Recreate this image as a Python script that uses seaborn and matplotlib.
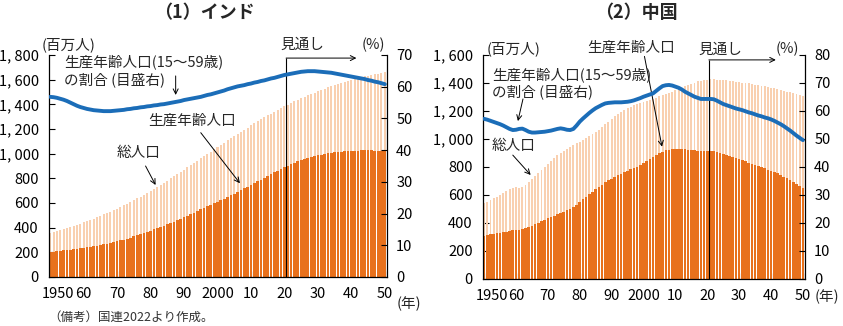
import matplotlib
matplotlib.use("Agg")
import matplotlib.pyplot as plt
import matplotlib.transforms as mtrans
import numpy as np
import pandas as pd
import seaborn as sns

# ---------------- data ----------------
years = list(range(1950, 2051))

india_total = [
    357, 364, 371, 379, 387, 395, 404, 413, 423, 432,
    442, 452, 462, 473, 484, 495, 507, 518, 530, 543,
    555, 568, 581, 595, 609, 623, 638, 652, 667, 682,
    697, 713, 730, 747, 764, 781, 799, 817, 835, 853,
    870, 888, 906, 925, 943, 961, 980, 998, 1016, 1035,
    1053, 1071, 1090, 1108, 1126, 1144, 1161, 1178, 1195, 1212,
    1229, 1246, 1262, 1278, 1294, 1310, 1325, 1340, 1355, 1370,
    1384, 1398, 1411, 1424, 1437, 1449, 1461, 1473, 1484, 1495,
    1506, 1517, 1528, 1538, 1548, 1557, 1566, 1575, 1584, 1592,
    1600, 1607, 1614, 1621, 1627, 1633, 1639, 1645, 1650, 1655,
    1660]

india_working = [
    203, 206, 209, 212, 215, 218, 221, 225, 229, 233,
    237, 241, 245, 249, 254, 259, 264, 269, 275, 281,
    289, 296, 304, 312, 320, 329, 338, 347, 356, 366,
    376, 386, 396, 406, 417, 428, 439, 450, 462, 474,
    486, 498, 510, 522, 535, 548, 561, 574, 587, 600,
    610, 623, 636, 650, 663, 677, 691, 704, 718, 732,
    746, 760, 775, 790, 804, 818, 833, 848, 863, 878,
    892, 904, 915, 926, 937, 947, 957, 966, 974, 981,
    987, 993, 998, 1003, 1007, 1011, 1014, 1017, 1019, 1021,
    1023, 1024, 1025, 1026, 1026, 1026, 1026, 1025, 1025, 1024,
    1023]

india_ratio = [
    56.8, 56.7, 56.5, 56.2, 55.9, 55.5, 55.0, 54.5, 54.0, 53.6,
    53.3, 53.0, 52.8, 52.6, 52.5, 52.4, 52.3, 52.3, 52.3, 52.4,
    52.5, 52.6, 52.7, 52.9, 53.0, 53.2, 53.3, 53.5, 53.6, 53.8,
    53.9, 54.1, 54.2, 54.4, 54.5, 54.7, 54.9, 55.1, 55.3, 55.5,
    55.8, 56.0, 56.2, 56.4, 56.6, 56.8, 57.1, 57.4, 57.6, 57.9,
    58.2, 58.5, 58.8, 59.2, 59.5, 59.8, 60.1, 60.3, 60.5, 60.8,
    61.0, 61.3, 61.5, 61.8, 62.0, 62.3, 62.6, 62.8, 63.1, 63.4,
    63.7, 63.9, 64.1, 64.3, 64.5, 64.7, 64.8, 64.9, 64.9, 64.9,
    64.8, 64.7, 64.6, 64.5, 64.4, 64.2, 64.0, 63.8, 63.6, 63.4,
    63.2, 63.0, 62.8, 62.6, 62.4, 62.1, 61.9, 61.6, 61.4, 61.1,
    60.8]

china_total = [
    543, 553, 564, 576, 588, 600, 613, 627, 640, 651,
    654, 651, 655, 673, 692, 712, 734, 756, 778, 800,
    822, 843, 864, 884, 901, 916, 930, 943, 956, 969,
    982, 994, 1008, 1022, 1035, 1050, 1067, 1085, 1104, 1124,
    1144, 1161, 1176, 1190, 1204, 1219, 1232, 1243, 1253, 1260,
    1264, 1272, 1280, 1288, 1296, 1304, 1312, 1321, 1330, 1339,
    1348, 1357, 1366, 1375, 1384, 1394, 1403, 1411, 1417, 1421,
    1424, 1425, 1425, 1424, 1422, 1420, 1418, 1415, 1412, 1409,
    1406, 1403, 1400, 1397, 1393, 1389, 1385, 1381, 1376, 1372,
    1367, 1362, 1356, 1351, 1345, 1339, 1333, 1326, 1320, 1313,
    1307]

china_working = [
    308, 313, 318, 323, 328, 331, 335, 339, 343, 347,
    350, 352, 357, 364, 372, 381, 391, 401, 412, 422,
    433, 443, 453, 462, 471, 481, 490, 498, 512, 530,
    550, 569, 588, 606, 624, 641, 658, 675, 691, 704,
    717, 728, 740, 751, 762, 772, 783, 793, 803, 814,
    826, 840, 855, 871, 887, 899, 910, 918, 924, 928,
    930, 930, 929, 927, 925, 922, 919, 916, 913, 911,
    912, 915, 914, 908, 901, 894, 887, 879, 871, 863,
    856, 848, 840, 832, 824, 815, 807, 799, 790, 781,
    773, 764, 754, 743, 732, 720, 707, 694, 680, 665,
    650]

china_ratio = [
    57.2, 56.9, 56.5, 56.1, 55.7, 55.3, 54.8, 54.2, 53.6, 53.2,
    53.3, 53.6, 53.7, 53.2, 52.6, 52.3, 52.3, 52.4, 52.5, 52.6,
    52.8, 53.0, 53.3, 53.6, 53.8, 53.6, 53.3, 53.2, 53.6, 54.8,
    56.2, 57.3, 58.3, 59.3, 60.2, 61.0, 61.6, 62.2, 62.7, 62.9,
    63.0, 63.1, 63.1, 63.1, 63.2, 63.3, 63.5, 63.8, 64.2, 64.6,
    65.1, 65.5, 65.9, 66.3, 67.2, 68.1, 68.9, 69.2, 69.3, 69.1,
    68.7, 68.3, 67.7, 66.9, 66.3, 65.7, 65.1, 64.7, 64.3, 64.3,
    64.3, 64.3, 64.2, 63.7, 63.1, 62.5, 62.1, 61.7, 61.3, 60.9,
    60.6, 60.3, 59.9, 59.5, 59.2, 58.8, 58.4, 58.1, 57.7, 57.4,
    57.0, 56.5, 55.9, 55.3, 54.6, 53.8, 53.0, 52.1, 51.2, 50.4,
    49.6]

x_tick_years = [1950, 1960, 1970, 1980, 1990, 2000, 2010, 2020, 2030, 2040, 2050]
x_tick_labels = ["1950", "60", "70", "80", "90", "2000", "10", "20", "30", "40", "50"]

titles = ["（1）インド", "（2）中国"]

# ---------------- style ----------------
sns.set_theme(style="white")
plt.rcParams["font.family"] = ["Noto Sans CJK JP", "DejaVu Sans"]

DARK = "#e8711c"
LIGHT = "#f9d0b0"
BLUE = "#1b6db8"

W, H = 843, 326
fig = plt.figure(figsize=(W / 100, H / 100), dpi=100)


def rect(l, t, r, b):
    return [l / W, 1 - b / H, (r - l) / W, (b - t) / H]


def px(x, y):
    return x / W, 1 - y / H


def draw(ax, total, working, ratio, ymax, ystep, rmax, rstep):
    df = pd.DataFrame({"year": years, "total": total,
                       "working": working, "ratio": ratio})
    sns.barplot(data=df, x="year", y="total", native_scale=True, color=LIGHT,
                saturation=1, width=0.6, linewidth=0, errorbar=None, ax=ax)
    sns.barplot(data=df, x="year", y="working", native_scale=True, color=DARK,
                saturation=1, width=0.82, linewidth=0, errorbar=None, ax=ax)
    ax.set_xlim(1949.5, 2050.5)
    ax.set_ylim(0, ymax)
    yt = list(range(0, ymax + 1, ystep))
    ax.set_yticks(yt)
    ax.set_yticklabels([f"{v:,}".replace(",", ", ") for v in yt])
    ax.set_xticks(x_tick_years)
    ax.set_xticklabels(x_tick_labels)
    ax.set_xlabel("")
    ax.set_ylabel("")
    ax.tick_params(axis="both", direction="in", length=4, width=0.8,
                   colors="black", labelsize=10.5, pad=7)
    ax.tick_params(axis="y", left=True, right=False)
    ax.tick_params(axis="x", bottom=True)
    for s in ["top", "right"]:
        ax.spines[s].set_visible(False)
    for s in ["left", "bottom"]:
        ax.spines[s].set_color("black")
        ax.spines[s].set_linewidth(0.9)
    # shift the "1950" label to the right
    t0 = ax.xaxis.get_major_ticks()[0].label1
    t0.set_transform(t0.get_transform() +
                     mtrans.ScaledTranslation(8 / 100, 0, fig.dpi_scale_trans))

    axr = ax.twinx()
    sns.lineplot(data=df, x="year", y="ratio", color=BLUE, linewidth=2.8,
                 ax=axr)
    axr.set_ylim(0, rmax)
    axr.set_xlim(1949.5, 2050.5)
    axr.set_yticks(list(range(0, rmax + 1, rstep)))
    axr.set_ylabel("")
    axr.set_xlabel("")
    axr.tick_params(axis="y", direction="in", length=4, width=0.8,
                    colors="black", labelsize=10.5, pad=7, right=True, left=False)
    for s in ["top", "left", "bottom"]:
        axr.spines[s].set_visible(False)
    axr.spines["right"].set_color("black")
    axr.spines["right"].set_linewidth(0.9)
    return axr


ax1 = fig.add_axes(rect(48.5, 55, 386.5, 277))
ax1r = draw(ax1, india_total, india_working, india_ratio, 1800, 200, 70, 10)
ax2 = fig.add_axes(rect(482.5, 55, 804.5, 279))
ax2r = draw(ax2, china_total, china_working, china_ratio, 1600, 200, 80, 10)

FS = 10.5
arrow = dict(arrowstyle="->", lw=0.7, color="black", shrinkA=0, shrinkB=0,
             mutation_scale=9)

# --- titles ---
fig.text(*px(204, 13), titles[0], ha="center", va="center", fontsize=13,
         fontweight="bold")
fig.text(*px(636, 13), titles[1], ha="center", va="center", fontsize=13,
         fontweight="bold")

# --- India annotations ---
fig.text(*px(42, 45), "(百万人)", ha="left", va="center", fontsize=FS)
fig.text(*px(362, 45), "(%)", ha="left", va="center", fontsize=FS)
fig.text(*px(64, 62), "生産年齢人口(15～59歳)", ha="left", va="center", fontsize=FS)
fig.text(*px(64, 80), "の割合 (目盛右)", ha="left", va="center", fontsize=FS)
ax1r.annotate("", xy=(1987.5, 57.4), xytext=(1987.5, 63.4), arrowprops=arrow)
fig.text(*px(148, 121), "生産年齢人口", ha="left", va="center", fontsize=FS)
ax1.annotate("", xy=(2006.7, 760), xytext=(1995, 1170), arrowprops=arrow)
fig.text(*px(117, 153), "総人口", ha="left", va="center", fontsize=FS)
ax1.annotate("", xy=(1981.5, 746), xytext=(1978.5, 900), arrowprops=arrow)
fig.text(*px(280, 45), "見通し", ha="left", va="center", fontsize=FS)
ax1.vlines(2020.5, 0, 1775, color="black", lw=0.8, zorder=5)
ax1.annotate("", xy=(2041.5, 1775), xytext=(2020.5, 1775), arrowprops=arrow)
fig.text(*px(397, 304), "(年)", ha="left", va="center", fontsize=FS)

# --- China annotations ---
fig.text(*px(487, 49), "(百万人)", ha="left", va="center", fontsize=FS)
fig.text(*px(776, 49), "(%)", ha="left", va="center", fontsize=FS)
fig.text(*px(587, 48), "生産年齢人口", ha="left", va="center", fontsize=FS)
ax2.annotate("", xy=(2005.8, 945), xytext=(2000.3, 1590), arrowprops=arrow)
fig.text(*px(492, 75), "生産年齢人口(15～59歳)", ha="left", va="center", fontsize=FS)
fig.text(*px(492, 92), "の割合 (目盛右)", ha="left", va="center", fontsize=FS)
ax2r.annotate("", xy=(1960.6, 56.4), xytext=(1962.2, 64.3), arrowprops=arrow)
fig.text(*px(492, 146), "総人口", ha="left", va="center", fontsize=FS)
ax2.annotate("", xy=(1964.6, 743), xytext=(1959, 885), arrowprops=arrow)
fig.text(*px(698, 50), "見通し", ha="left", va="center", fontsize=FS)
ax2.vlines(2020.5, 0, 1565, color="black", lw=0.8, zorder=5)
ax2.annotate("", xy=(2041.5, 1565), xytext=(2020.5, 1565), arrowprops=arrow)
fig.text(*px(815, 297), "(年)", ha="left", va="center", fontsize=FS)

# --- footnote ---
fig.text(*px(48, 317), "（備考）国連2022より作成。", ha="left", va="center",
         fontsize=9, color="#333333")

fig.savefig("out.png", dpi=100)
